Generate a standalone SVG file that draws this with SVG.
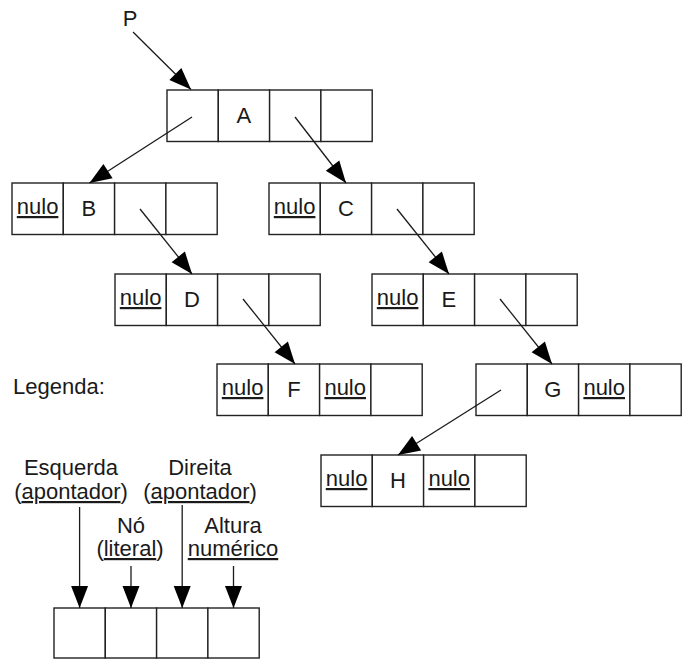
<svg xmlns="http://www.w3.org/2000/svg" width="683" height="660" viewBox="0 0 683 660">
<style>
.c{fill:#fff;stroke:#222;stroke-width:1.4}
.t{font-family:"Liberation Sans",Arial,sans-serif;font-size:22px;fill:#1a1a1a;text-anchor:middle}
.u{text-decoration:underline}
.l{stroke:#1a1a1a;stroke-width:1.3;fill:none;marker-end:url(#ah)}
</style>
<defs>
<marker id="ah" markerUnits="userSpaceOnUse" markerWidth="24" markerHeight="18" refX="22" refY="8.5" orient="auto" overflow="visible">
<path d="M0,0 L22,8.5 L0,17 z" fill="#000"/>
</marker>
</defs>
<rect width="683" height="660" fill="#fff"/>
<g id="nodeA">
<rect class="c" x="167" y="90" width="51.3" height="51.5"/><rect class="c" x="218.3" y="90" width="51.3" height="51.5"/><rect class="c" x="269.6" y="90" width="51.3" height="51.5"/><rect class="c" x="320.9" y="90" width="51.3" height="51.5"/>
<text class="t" x="243.9" y="123">A</text>
</g>
<g id="nodeB">
<rect class="c" x="12" y="183" width="51.3" height="51.5"/><rect class="c" x="63.3" y="183" width="51.3" height="51.5"/><rect class="c" x="114.6" y="183" width="51.3" height="51.5"/><rect class="c" x="165.9" y="183" width="51.3" height="51.5"/>
<text class="t u" x="37.6" y="214">nulo</text>
<text class="t" x="88.9" y="216">B</text>
</g>
<g id="nodeC">
<rect class="c" x="269" y="183" width="51.3" height="51.5"/><rect class="c" x="320.3" y="183" width="51.3" height="51.5"/><rect class="c" x="371.6" y="183" width="51.3" height="51.5"/><rect class="c" x="422.9" y="183" width="51.3" height="51.5"/>
<text class="t u" x="294.6" y="214">nulo</text>
<text class="t" x="345.9" y="216">C</text>
</g>
<g id="nodeD">
<rect class="c" x="115" y="274" width="51.3" height="51.5"/><rect class="c" x="166.3" y="274" width="51.3" height="51.5"/><rect class="c" x="217.6" y="274" width="51.3" height="51.5"/><rect class="c" x="268.9" y="274" width="51.3" height="51.5"/>
<text class="t u" x="140.6" y="305">nulo</text>
<text class="t" x="191.9" y="307">D</text>
</g>
<g id="nodeE">
<rect class="c" x="372" y="274" width="51.3" height="51.5"/><rect class="c" x="423.3" y="274" width="51.3" height="51.5"/><rect class="c" x="474.6" y="274" width="51.3" height="51.5"/><rect class="c" x="525.9" y="274" width="51.3" height="51.5"/>
<text class="t u" x="397.6" y="305">nulo</text>
<text class="t" x="448.9" y="307">E</text>
</g>
<g id="nodeF">
<rect class="c" x="217" y="364" width="51.3" height="51.5"/><rect class="c" x="268.3" y="364" width="51.3" height="51.5"/><rect class="c" x="319.6" y="364" width="51.3" height="51.5"/><rect class="c" x="370.9" y="364" width="51.3" height="51.5"/>
<text class="t u" x="242.6" y="395">nulo</text>
<text class="t" x="293.9" y="397">F</text>
<text class="t u" x="345.2" y="395">nulo</text>
</g>
<g id="nodeG">
<rect class="c" x="476" y="364" width="51.3" height="51.5"/><rect class="c" x="527.3" y="364" width="51.3" height="51.5"/><rect class="c" x="578.6" y="364" width="51.3" height="51.5"/><rect class="c" x="629.9" y="364" width="51.3" height="51.5"/>
<text class="t" x="552.9" y="397">G</text>
<text class="t u" x="604.2" y="395">nulo</text>
</g>
<g id="nodeH">
<rect class="c" x="321" y="455" width="51.3" height="51.5"/><rect class="c" x="372.3" y="455" width="51.3" height="51.5"/><rect class="c" x="423.6" y="455" width="51.3" height="51.5"/><rect class="c" x="474.9" y="455" width="51.3" height="51.5"/>
<text class="t u" x="346.6" y="486">nulo</text>
<text class="t" x="397.9" y="488">H</text>
<text class="t u" x="449.2" y="486">nulo</text>
</g>
<g id="legend">
<rect class="c" x="54" y="608" width="51.3" height="50"/><rect class="c" x="105.3" y="608" width="51.3" height="50"/><rect class="c" x="156.6" y="608" width="51.3" height="50"/><rect class="c" x="207.9" y="608" width="51.3" height="50"/>
<text class="t" x="13" y="394" style="text-anchor:start">Legenda:</text>
<text class="t" x="71" y="475">Esquerda</text>
<text class="t" x="71" y="499">(<tspan class="u">apontador</tspan>)</text>
<text class="t" x="200" y="475">Direita</text>
<text class="t" x="200" y="499">(<tspan class="u">apontador</tspan>)</text>
<text class="t" x="131" y="533">Nó</text>
<text class="t" x="130" y="556">(<tspan class="u">literal</tspan>)</text>
<text class="t" x="233" y="533">Altura</text>
<text class="t u" x="233" y="556">numérico</text>
</g>
<text id="labelP" class="t" x="130" y="26">P</text>
<g id="connectors">
<line class="l" x1="133" y1="32" x2="191" y2="89.5"/>
<line class="l" x1="192" y1="117" x2="89.5" y2="183"/>
<line class="l" x1="295" y1="117" x2="346" y2="183"/>
<line class="l" x1="140" y1="209" x2="192" y2="274"/>
<line class="l" x1="397" y1="209" x2="449" y2="274"/>
<line class="l" x1="243" y1="299" x2="295" y2="364"/>
<line class="l" x1="500" y1="299" x2="552" y2="364"/>
<line class="l" x1="501" y1="390" x2="398" y2="455"/>
<line class="l" x1="79.6" y1="507" x2="79.6" y2="608"/>
<line class="l" x1="131" y1="566" x2="131" y2="608"/>
<line class="l" x1="182.2" y1="505" x2="182.2" y2="608"/>
<line class="l" x1="233.5" y1="566" x2="233.5" y2="608"/>
</g>
</svg>
